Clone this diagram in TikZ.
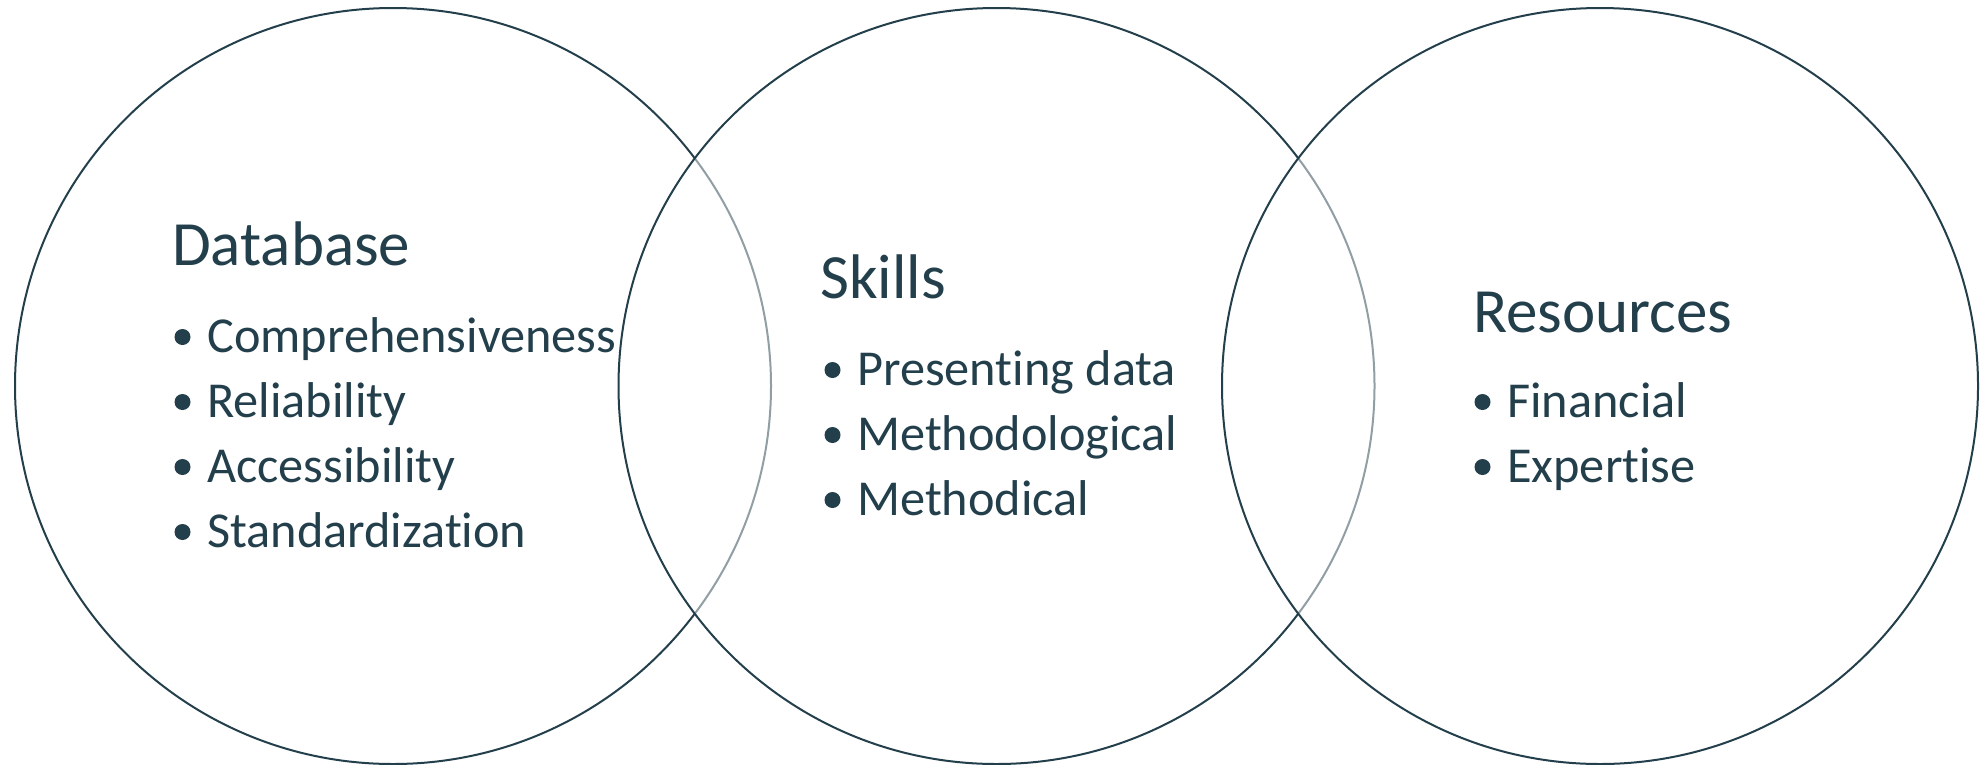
\documentclass[tikz,border=0pt]{standalone}
\usepackage{fontspec}
\setmainfont{Carlito}[Ligatures=NoCommon]
\definecolor{ink}{HTML}{233F4B}
\tikzset{
  venn/.style={circle, draw=ink, line width=2pt, fill=white, fill opacity=0.5, draw opacity=1, inner sep=0pt, minimum size=756pt},
  head/.style={anchor=base west, inner sep=0pt, text=ink, font=\fontsize{63}{74}\selectfont},
  item/.style={anchor=base west, inner sep=0pt, text=ink, font=\fontsize{50.3}{62}\selectfont},
  dot/.style={fill=ink},
}
\begin{document}
\begin{tikzpicture}[x=1pt,y=-1pt]
\useasboundingbox (0,0) rectangle (1980,764);
\node[venn] (c1) at (393,386) {};
\node[venn] (c2) at (996.5,386) {};
\node[venn] (c3) at (1600,386) {};
% left
\node[head] (h1) at (172,265) {Database};
\node[item] (a1) at (207,352) {Comprehensiveness};
\node[item] (a2) at (207,417) {Reliability};
\node[item] (a3) at (207,482) {Accessibility};
\node[item] (a4) at (207,547) {Standardization};
% middle
\node[head] (h2) at (820,298) {Skills};
\node[item] (b1) at (857,385) {Presenting data};
\node[item] (b2) at (857,450) {Methodological};
\node[item] (b3) at (857,515) {Methodical};
% right
\node[head] (h3) at (1473,332) {Resources};
\node[item] (r1) at (1507,417) {Financial};
\node[item] (r2) at (1507,482) {Expertise};
% bullets
\foreach \n in {a1,a2,a3,a4,b1,b2,b3,r1,r2}
  \fill[dot] ([xshift=-24.5pt,yshift=15pt]\n.base west) circle (8pt);
\end{tikzpicture}
\end{document}
